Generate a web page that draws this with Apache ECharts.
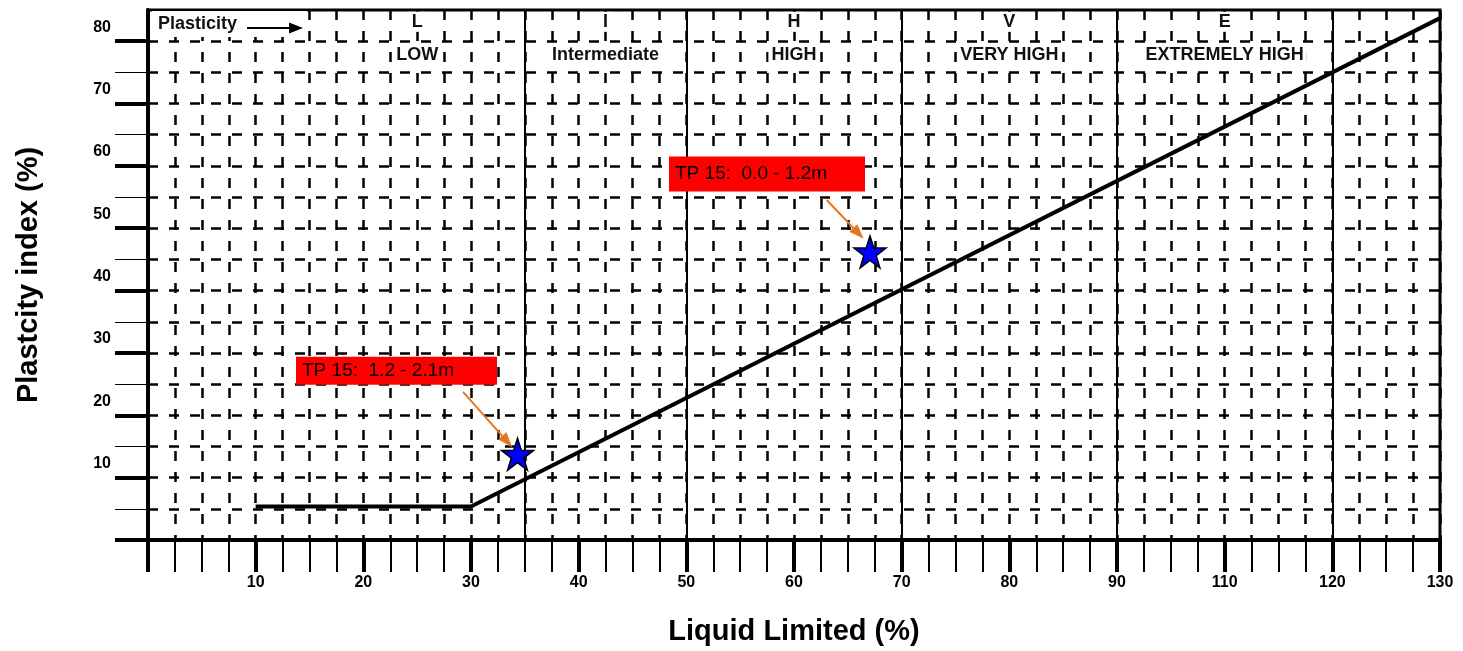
<!DOCTYPE html>
<html>
<head>
<meta charset="utf-8">
<script src="https://cdn.jsdelivr.net/npm/echarts@6/dist/echarts.min.js"></script>
<style>
  html, body { margin: 0; padding: 0; background: #fff; }
  #chart { width: 1463px; height: 651px; }
</style>
</head>
<body>
<div id="chart"></div>
<script>
// ---- data ----
const xLabelValues = [10, 20, 30, 40, 50, 60, 70, 80, 90, 100, 110, 120];
const xTickLabels = ['10', '20', '30', '40', '50', '60', '70', '80', '90', '110', '120', '130'];
const xMajorTicks = [0, 10, 20, 30, 40, 50, 60, 70, 80, 90, 100, 110, 120];
const yLabelValues = [10, 20, 30, 40, 50, 60, 70, 80];
const yMajorTicks = [0, 10, 20, 30, 40, 50, 60, 70, 80];
const yMinorTicks = [5, 15, 25, 35, 45, 55, 65, 75];
const classBoundaries = [35, 50, 70, 90, 110];
const classCodes = ['L', 'I', 'H', 'V', 'E'];
const classNames = ['LOW', 'Intermediate', 'HIGH', 'VERY HIGH', 'EXTREMELY HIGH'];
const classCenters = [25, 42.5, 60, 80, 100];
const aLine = [[10, 5.36], [30, 5.36], [120, 83.7]];
const sampleNames = ['TP 15:  0.0 - 1.2m', 'TP 15:  1.2 - 2.1m'];
const sampleLL = [67.06, 34.32];
const samplePI = [46.2, 13.75];

// ---- styles ----
const FONT = 'Liberation Sans, Arial, Helvetica, sans-serif';
const STAR = 'path://M50,0 L61.8,35.1 L98.9,35.1 L68.9,56.9 L80.3,92.1 L50,70.4 L19.7,92.1 L31.1,56.9 L1.1,35.1 L38.2,35.1 Z';
const ORANGE = '#E8761E';
const dashStyle = { color: '#000', width: 2.5, type: [10, 11] };

const chart = echarts.init(document.getElementById('chart'), null, { renderer: 'canvas' });

const classLabelData = [];
classCodes.forEach((c, i) => {
  classLabelData.push({ value: [classCenters[i], 83.1], label: { formatter: c } });
  classLabelData.push({ value: [classCenters[i], 77.8], label: { formatter: classNames[i] } });
});

const labelOffsets = [[-201, -78, 184, 35], [-221.5, -83.5, 189, 28]];
const sampleData = sampleNames.map((n, i) => ({
  name: n,
  value: [sampleLL[i], samplePI[i]],
  label: {
    offset: [labelOffsets[i][0], labelOffsets[i][1]],
    width: labelOffsets[i][2],
    height: labelOffsets[i][3],
    lineHeight: labelOffsets[i][3]
  }
}));

const option = {
  animation: false,
  backgroundColor: '#fff',
  grid: {
    left: 148, right: 23, top: 10, bottom: 109.5,
    show: true, borderColor: '#000', borderWidth: 3, backgroundColor: 'transparent',
    containLabel: false
  },
  xAxis: [
    {
      type: 'value', position: 'bottom', min: 0, max: 120, interval: 10,
      name: 'Liquid Limited (%)', nameLocation: 'middle', nameGap: 77,
      nameTextStyle: { fontFamily: FONT, fontSize: 29, fontWeight: 'bold', color: '#000' },
      axisLine: { show: true, lineStyle: { color: '#000', width: 4 } },
      axisTick: { show: true, inside: false, length: 32, lineStyle: { color: '#000', width: 4 }, customValues: xMajorTicks },
      axisLabel: {
        show: true, margin: 35, customValues: xLabelValues,
        fontFamily: FONT, fontSize: 16, fontWeight: 'bold', color: '#000',
        formatter: v => { const k = xLabelValues.indexOf(v); return k >= 0 ? xTickLabels[k] : ''; }
      },
      splitLine: { show: false }
    },
    {
      type: 'value', position: 'bottom', min: 0, max: 120, interval: 2.5,
      axisLine: { show: false },
      axisTick: { show: true, inside: false, length: 32, lineStyle: { color: '#000', width: 2 } },
      axisLabel: { show: false },
      splitLine: { show: true, lineStyle: dashStyle }
    }
  ],
  yAxis: [
    {
      type: 'value', position: 'left', min: 0, max: 85, interval: 10,
      name: 'Plastcity index (%)', nameLocation: 'middle', nameGap: 105, nameRotate: 90,
      nameTextStyle: { fontFamily: FONT, fontSize: 29, fontWeight: 'bold', color: '#000' },
      axisLine: { show: true, lineStyle: { color: '#000', width: 4 } },
      axisTick: { show: true, inside: false, length: 33, lineStyle: { color: '#000', width: 4 }, customValues: yMajorTicks },
      axisLabel: {
        show: true, margin: 37, customValues: yLabelValues,
        fontFamily: FONT, fontSize: 16, fontWeight: 'bold', color: '#000',
        verticalAlign: 'bottom', lineHeight: 28
      },
      splitLine: { show: true, lineStyle: dashStyle }
    },
    {
      type: 'value', position: 'left', min: 0, max: 85, interval: 5,
      axisLine: { show: false },
      axisTick: { show: true, inside: false, length: 33, lineStyle: { color: '#000', width: 1 }, customValues: yMinorTicks },
      axisLabel: { show: false },
      splitLine: { show: true, lineStyle: dashStyle }
    }
  ],
  series: [
    {
      type: 'line', name: 'A-line', data: aLine, symbol: 'none', z: 5,
      lineStyle: { color: '#000', width: 4 },
      markLine: {
        silent: true, symbol: 'none', animation: false,
        label: { show: false },
        lineStyle: { color: '#000', width: 2, type: 'solid' },
        data: classBoundaries.map(v => ({ xAxis: v }))
      }
    },
    {
      type: 'scatter', name: 'classes', data: classLabelData, symbolSize: 0, silent: true, z: 6,
      itemStyle: { opacity: 1 },
      label: {
        show: true, position: 'inside', color: '#111',
        fontFamily: FONT, fontSize: 18, fontWeight: 'bold',
        backgroundColor: '#fff', padding: [1, 3]
      }
    },
    {
      type: 'scatter', name: 'plasticity', data: [[0.37, 82.76]], symbolSize: 0, silent: true, z: 6,
      itemStyle: { opacity: 1 },
      label: {
        show: true, position: 'inside', align: 'left', verticalAlign: 'middle',
        formatter: 'Plasticity', color: '#111',
        fontFamily: FONT, fontSize: 18, fontWeight: 'bold',
        backgroundColor: '#fff', padding: [4, 70, 4, 6]
      }
    },
    {
      type: 'line', name: 'plasticity-arrow', data: [], z: 20, silent: true,
      markLine: {
        silent: true, animation: false, symbol: ['none', 'triangle'], symbolSize: [11, 14], z: 20,
        label: { show: false },
        lineStyle: { color: '#000', width: 2, type: 'solid', opacity: 1 },
        itemStyle: { color: '#000', opacity: 1 },
        data: [[{ coord: [9.2, 82.12] }, { coord: [13.75, 82.12] }]]
      }
    },
    {
      type: 'scatter', name: 'samples', data: sampleData, z: 8,
      symbol: STAR, symbolSize: 32,
      itemStyle: { color: '#0000FF', borderColor: '#000', borderWidth: 1.5, opacity: 1 },
      label: {
        show: true, position: 'inside', align: 'left', verticalAlign: 'middle',
        formatter: '{b}', color: '#000',
        fontFamily: FONT, fontSize: 19,
        backgroundColor: '#FF0000', padding: [0, 6]
      },
      markLine: {
        silent: true, animation: false, symbol: ['none', 'triangle'], symbolSize: [11, 15],
        label: { show: false },
        lineStyle: { color: ORANGE, width: 2, type: 'solid', opacity: 1 },
        itemStyle: { color: ORANGE, opacity: 1 },
        data: [
          [{ coord: [63.04, 54.53] }, { coord: [65.99, 49.17] }],
          [{ coord: [29.26, 23.76] }, { coord: [33.37, 15.79] }]
        ]
      }
    }
  ]
};
chart.setOption(option);
</script>
</body>
</html>
